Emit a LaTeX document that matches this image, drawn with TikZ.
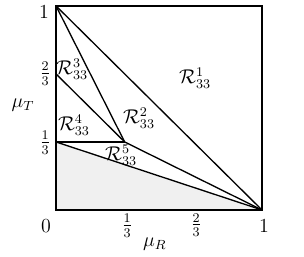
\documentclass[tikz,border=0pt]{standalone}
\usepackage{amsmath,amssymb}
\usepackage{tikz}
\usetikzlibrary{positioning}

\begin{document}
\begin{tikzpicture}[
  x=4.36cm, y=4.32cm,
  font=\large,
  edge/.style={
    line width=0.8pt
  },
  region/.style={
    inner sep=0pt
  },
  tick/.style={
    inner sep=0pt
  }
]

\useasboundingbox (-0.272,-0.230) rectangle (1.204,1.029);

% --- Corner and split points -----------------------------------------

\coordinate (o)   at (0,0);
\coordinate (r1)  at (1,0);
\coordinate (t1)  at (0,1);
\coordinate (t2)  at (0,2/3);
\coordinate (t3)  at (0,1/3);
\coordinate (c)   at (1/3,1/3);
\coordinate (top) at (1,1);

% --- Shaded region ---------------------------------------------------

\fill[black!6] (o) -- (t3) -- (r1) -- cycle;

% --- Frame and splits ------------------------------------------------

\draw[edge] (o) rectangle (top);

\draw[edge] (t1) -- (r1);
\draw[edge] (t1) -- (c);
\draw[edge] (t2) -- (c);
\draw[edge] (t3) -- (c);
\draw[edge] (c) -- (r1);
\draw[edge] (t3) -- (r1);

% --- Region labels ---------------------------------------------------

\node[region] (reg1) at (0.675,0.647) {$\mathcal{R}_{33}^{1}$};
\node[region] (reg2) at (0.403,0.451) {$\mathcal{R}_{33}^{2}$};
\node[region] (reg3) at (0.078,0.691) {$\mathcal{R}_{33}^{3}$};
\node[region] (reg4) at (0.087,0.417) {$\mathcal{R}_{33}^{4}$};
\node[region] (reg5) at (0.316,0.270) {$\mathcal{R}_{33}^{5}$};

% --- Axis ticks and labels -------------------------------------------

\node[tick] (yt1) at (-0.058,0.970) {$1$};
\node[tick] (yt2) at (-0.053,0.667) {$\frac{2}{3}$};
\node[tick] (yt3) at (-0.053,0.328) {$\frac{1}{3}$};
\node[tick] (xt0) at (-0.049,-0.078) {$0$};
\node[tick] (xt1) at (0.345,-0.078) {$\frac{1}{3}$};
\node[tick] (xt2) at (0.680,-0.074) {$\frac{2}{3}$};
\node[tick] (xt3) at (1.010,-0.078) {$1$};

\node (muT) at (-0.160,0.515) {$\mu_T$};
\node (muR) at (0.480,-0.167) {$\mu_R$};

\end{tikzpicture}
\end{document}
